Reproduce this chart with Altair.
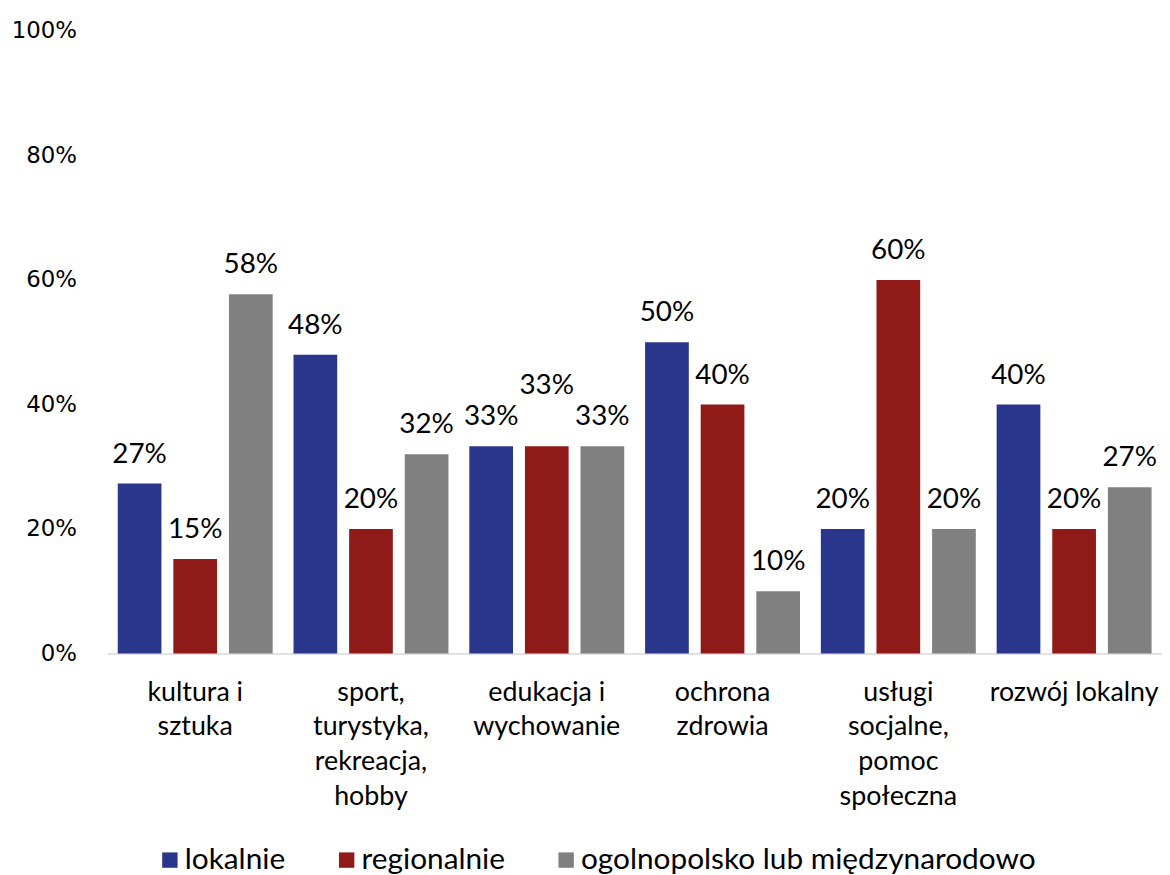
import altair as alt
import pandas as pd

categories = [
    "kultura i|sztuka",
    "sport,|turystyka,|rekreacja,|hobby",
    "edukacja i|wychowanie",
    "ochrona|zdrowia",
    "usługi|socjalne,|pomoc|społeczna",
    "rozwój lokalny",
]
series = ["lokalnie", "regionalnie", "ogolnopolsko lub międzynarodowo"]
lokalnie = [0.273, 0.48, 0.333, 0.50, 0.20, 0.40]
regionalnie = [0.152, 0.20, 0.333, 0.40, 0.60, 0.20]
ogolnopolsko = [0.577, 0.32, 0.333, 0.10, 0.20, 0.267]
colors = ["#2A358C", "#8F1A18", "#808080"]
y_ticks = [0, 0.2, 0.4, 0.6, 0.8, 1.0]

rows = []
for s, vals in zip(series, [lokalnie, regionalnie, ogolnopolsko]):
    for c, v in zip(categories, vals):
        rows.append({"kategoria": c, "seria": s, "wartosc": v})
df = pd.DataFrame(rows)

FONT = "Lato"

x_enc = alt.X(
    "kategoria:N",
    sort=categories,
    scale=alt.Scale(paddingInner=0, paddingOuter=0),
    axis=alt.Axis(
        title=None,
        labelAngle=0,
        labelExpr="split(datum.label, '|')",
        labelFont=FONT,
        labelFontSize=27,
        labelColor="#000000",
        labelLineHeight=35,
        labelBaseline="top",
        labelPadding=26,
        ticks=False,
        domainColor="#D9D9D9",
        domainWidth=1.5,
        grid=False,
        labelLimit=300,
    ),
)
xoff_enc = alt.XOffset(
    "seria:N",
    sort=series,
    scale=alt.Scale(paddingInner=0.214, paddingOuter=0.1875),
)
y_scale = alt.Scale(domain=[0, 1], nice=False)
y_axis = alt.Axis(
    title=None,
    values=y_ticks,
    format=".0%",
    domain=False,
    ticks=False,
    grid=False,
    labelFont="DejaVu Sans",
    labelFontSize=23,
    labelColor="#000000",
    labelPadding=31,
)

bars = alt.Chart(df).mark_bar().encode(
    x=x_enc,
    xOffset=xoff_enc,
    y=alt.Y("wartosc:Q", scale=y_scale, axis=y_axis),
    color=alt.Color(
        "seria:N",
        sort=series,
        scale=alt.Scale(domain=series, range=colors),
        legend=alt.Legend(
            title=None,
            orient="none",
            direction="horizontal",
            legendX=48,
            legendY=820,
            symbolType="square",
            symbolSize=240,
            symbolStrokeWidth=0,
            labelFont=FONT,
            labelFontSize=30,
            labelColor="#000000",
            labelOffset=0,
            columnPadding=46,
            labelLimit=700,
        ),
    ),
)

# the middle of three equal labels is lifted so the labels do not collide
labels = (
    alt.Chart(df)
    .transform_calculate(
        label_y="datum.wartosc + (datum.kategoria == 'edukacja i|wychowanie' && datum.seria == 'regionalnie' ? 0.051 : 0)"
    )
    .mark_text(font=FONT, fontSize=28, color="#000000", baseline="alphabetic", dy=-21)
    .encode(
        x=x_enc,
        xOffset=xoff_enc,
        y=alt.Y("label_y:Q", scale=y_scale, axis=y_axis),
        text=alt.Text("wartosc:Q", format=".0%"),
    )
)

chart = (
    alt.layer(bars, labels)
    .properties(
        width=1062,
        height=627,
        background="#FFFFFF",
        autosize=alt.AutoSizeParams(type="none"),
        padding={"left": 100, "top": 20, "right": 0, "bottom": 220},
    )
    .configure_view(stroke=None, strokeWidth=0)
)

chart.save("out.html", embed_options={"renderer": "svg", "actions": False})
